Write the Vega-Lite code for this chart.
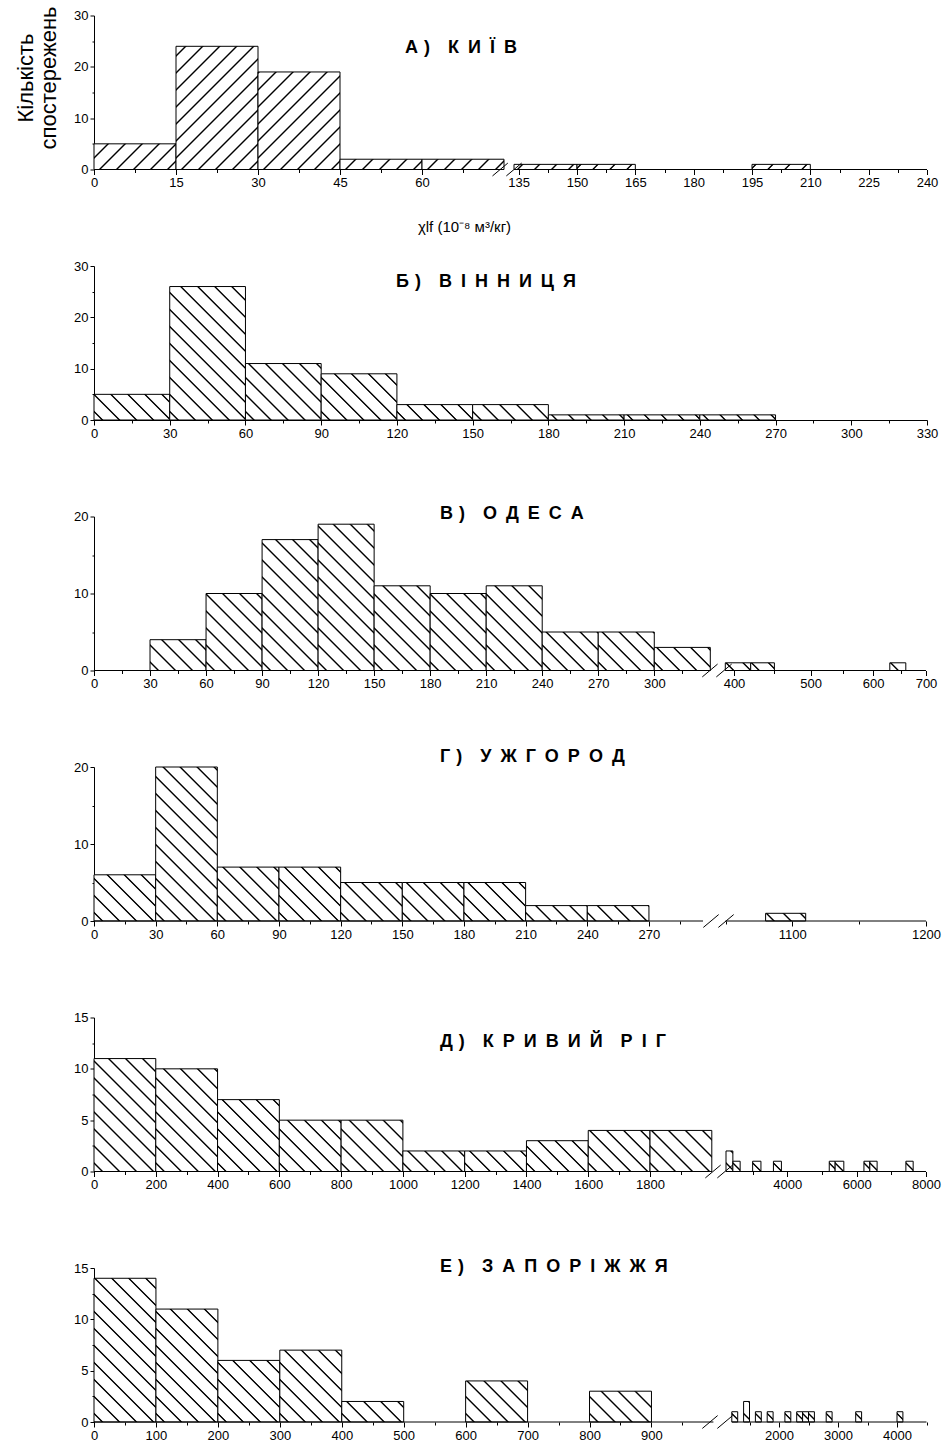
{
  "$schema": "https://vega.github.io/schema/vega-lite/v6.json",
  "background": "white",
  "autosize": {"type": "pad"},
  "padding": {"left": 14, "top": 5.5, "right": 5, "bottom": 2},
  "bounds": "flush",
  "spacing": 96.5,
  "params": [
    {"name": "hatch", "value": [
      {"offset": 0, "color": "#fff"},
      {"offset": 0.0290, "color": "#fff"}, {"offset": 0.0340, "color": "#000"}, {"offset": 0.0374, "color": "#000"}, {"offset": 0.0424, "color": "#fff"},
      {"offset": 0.1004, "color": "#fff"}, {"offset": 0.1055, "color": "#000"}, {"offset": 0.1088, "color": "#000"}, {"offset": 0.1139, "color": "#fff"},
      {"offset": 0.1718, "color": "#fff"}, {"offset": 0.1769, "color": "#000"}, {"offset": 0.1803, "color": "#000"}, {"offset": 0.1853, "color": "#fff"},
      {"offset": 0.2433, "color": "#fff"}, {"offset": 0.2483, "color": "#000"}, {"offset": 0.2517, "color": "#000"}, {"offset": 0.2567, "color": "#fff"},
      {"offset": 0.3147, "color": "#fff"}, {"offset": 0.3197, "color": "#000"}, {"offset": 0.3231, "color": "#000"}, {"offset": 0.3282, "color": "#fff"},
      {"offset": 0.3861, "color": "#fff"}, {"offset": 0.3912, "color": "#000"}, {"offset": 0.3945, "color": "#000"}, {"offset": 0.3996, "color": "#fff"},
      {"offset": 0.4576, "color": "#fff"}, {"offset": 0.4626, "color": "#000"}, {"offset": 0.4660, "color": "#000"}, {"offset": 0.4710, "color": "#fff"},
      {"offset": 0.5290, "color": "#fff"}, {"offset": 0.5340, "color": "#000"}, {"offset": 0.5374, "color": "#000"}, {"offset": 0.5424, "color": "#fff"},
      {"offset": 0.6004, "color": "#fff"}, {"offset": 0.6055, "color": "#000"}, {"offset": 0.6088, "color": "#000"}, {"offset": 0.6139, "color": "#fff"},
      {"offset": 0.6718, "color": "#fff"}, {"offset": 0.6769, "color": "#000"}, {"offset": 0.6803, "color": "#000"}, {"offset": 0.6853, "color": "#fff"},
      {"offset": 0.7433, "color": "#fff"}, {"offset": 0.7483, "color": "#000"}, {"offset": 0.7517, "color": "#000"}, {"offset": 0.7567, "color": "#fff"},
      {"offset": 0.8147, "color": "#fff"}, {"offset": 0.8197, "color": "#000"}, {"offset": 0.8231, "color": "#000"}, {"offset": 0.8282, "color": "#fff"},
      {"offset": 0.8861, "color": "#fff"}, {"offset": 0.8912, "color": "#000"}, {"offset": 0.8945, "color": "#000"}, {"offset": 0.8996, "color": "#fff"},
      {"offset": 0.9576, "color": "#fff"}, {"offset": 0.9626, "color": "#000"}, {"offset": 0.9660, "color": "#000"}, {"offset": 0.9710, "color": "#fff"},
      {"offset": 1, "color": "#fff"}
    ]}
  ],
  "datasets": {
    "kyiv": [
      {"lo": 0, "hi": 15, "n": 5}, {"lo": 15, "hi": 30, "n": 24}, {"lo": 30, "hi": 45, "n": 19},
      {"lo": 45, "hi": 60, "n": 2}, {"lo": 60, "hi": 75, "n": 2},
      {"lo": 133.8, "hi": 150, "n": 1}, {"lo": 150, "hi": 165, "n": 1}, {"lo": 195, "hi": 210, "n": 1}
    ],
    "vinnytsia": [
      {"lo": 0, "hi": 30, "n": 5}, {"lo": 30, "hi": 60, "n": 26}, {"lo": 60, "hi": 90, "n": 11},
      {"lo": 90, "hi": 120, "n": 9}, {"lo": 120, "hi": 150, "n": 3}, {"lo": 150, "hi": 180, "n": 3},
      {"lo": 180, "hi": 210, "n": 1}, {"lo": 210, "hi": 240, "n": 1}, {"lo": 240, "hi": 270, "n": 1}
    ],
    "odesa": [
      {"lo": 30, "hi": 60, "n": 4}, {"lo": 60, "hi": 90, "n": 10}, {"lo": 90, "hi": 120, "n": 17},
      {"lo": 120, "hi": 150, "n": 19}, {"lo": 150, "hi": 180, "n": 11}, {"lo": 180, "hi": 210, "n": 10},
      {"lo": 210, "hi": 240, "n": 11}, {"lo": 240, "hi": 270, "n": 5}, {"lo": 270, "hi": 300, "n": 5},
      {"lo": 300, "hi": 330, "n": 3}, {"lo": 390, "hi": 420, "n": 1}, {"lo": 420, "hi": 450, "n": 1},
      {"lo": 630, "hi": 660, "n": 1}
    ],
    "uzhhorod": [
      {"lo": 0, "hi": 30, "n": 6}, {"lo": 30, "hi": 60, "n": 20}, {"lo": 60, "hi": 90, "n": 7},
      {"lo": 90, "hi": 120, "n": 7}, {"lo": 120, "hi": 150, "n": 5}, {"lo": 150, "hi": 180, "n": 5},
      {"lo": 180, "hi": 210, "n": 5}, {"lo": 210, "hi": 240, "n": 2}, {"lo": 240, "hi": 270, "n": 2},
      {"lo": 1080, "hi": 1110, "n": 1}
    ],
    "kryvyirih": [
      {"lo": 0, "hi": 200, "n": 11}, {"lo": 200, "hi": 400, "n": 10}, {"lo": 400, "hi": 600, "n": 7},
      {"lo": 600, "hi": 800, "n": 5}, {"lo": 800, "hi": 1000, "n": 5}, {"lo": 1000, "hi": 1200, "n": 2},
      {"lo": 1200, "hi": 1400, "n": 2}, {"lo": 1400, "hi": 1600, "n": 3}, {"lo": 1600, "hi": 1800, "n": 4},
      {"lo": 1800, "hi": 2000, "n": 4},
      {"lo": 2232, "hi": 2430, "n": 2}, {"lo": 2430, "hi": 2640, "n": 1}, {"lo": 3000, "hi": 3240, "n": 1},
      {"lo": 3600, "hi": 3830, "n": 1}, {"lo": 5210, "hi": 5380, "n": 1}, {"lo": 5380, "hi": 5630, "n": 1},
      {"lo": 6210, "hi": 6380, "n": 1}, {"lo": 6380, "hi": 6590, "n": 1}, {"lo": 7420, "hi": 7630, "n": 1}
    ],
    "zaporizhzhia": [
      {"lo": 0, "hi": 100, "n": 14}, {"lo": 100, "hi": 200, "n": 11}, {"lo": 200, "hi": 300, "n": 6},
      {"lo": 300, "hi": 400, "n": 7}, {"lo": 400, "hi": 500, "n": 2}, {"lo": 600, "hi": 700, "n": 4},
      {"lo": 800, "hi": 900, "n": 3},
      {"lo": 1200, "hi": 1300, "n": 1}, {"lo": 1400, "hi": 1500, "n": 2}, {"lo": 1600, "hi": 1700, "n": 1},
      {"lo": 1800, "hi": 1900, "n": 1}, {"lo": 2100, "hi": 2200, "n": 1}, {"lo": 2300, "hi": 2400, "n": 1},
      {"lo": 2400, "hi": 2500, "n": 1}, {"lo": 2500, "hi": 2600, "n": 1}, {"lo": 2800, "hi": 2900, "n": 1},
      {"lo": 3300, "hi": 3400, "n": 1}, {"lo": 4000, "hi": 4100, "n": 1}
    ]
  },
  "vconcat": [
    {
      "width": 833, "height": 154,
      "title": {"text": "А\u2004)\u2002\u2002К\u2002И\u2002Ї\u2002В", "dx": 311, "dy": 55},
      "data": {"name": "kyiv"},
      "layer": [
        {
          "mark": {"type": "rect", "stroke": "#000", "strokeWidth": 1,
            "fill": {"expr": "{id:'hz0_'+round(datum.lo*10),gradient:'linear',x1:1,y1:1,x2:1-238*(scale('concat_0_x',datum.hi)-scale('concat_0_x',datum.lo))/(pow(scale('concat_0_x',datum.hi)-scale('concat_0_x',datum.lo),2)+pow(scale('concat_0_y',0)-scale('concat_0_y',datum.n),2)),y2:1-238*(scale('concat_0_y',0)-scale('concat_0_y',datum.n))/(pow(scale('concat_0_x',datum.hi)-scale('concat_0_x',datum.lo),2)+pow(scale('concat_0_y',0)-scale('concat_0_y',datum.n),2)),stops:hatch}"}},
          "encoding": {
            "x": {"field": "lo", "type": "quantitative", "title": "χlf (10⁻⁸ м³/кг)",
              "scale": {"domain": [0, 75, 133.8, 240], "range": [0, 410, 420, 833], "nice": false, "zero": false},
              "axis": {"domain": false, "format": "d",
                "values": [0, 7.5, 15, 22.5, 30, 37.5, 45, 52.5, 60, 67.5, 135, 142.5, 150, 157.5, 165, 172.5, 180, 187.5, 195, 202.5, 210, 217.5, 225, 232.5, 240],
                "labelExpr": "datum.value % 15 === 0 ? datum.label : ''",
                "tickSize": {"condition": {"test": "datum.value % 15 === 0", "value": 5}, "value": 3},
                "title": "χlf (10⁻⁸ м³/кг)", "titleX": 370, "titleY": 62, "titleBaseline": "alphabetic", "titleAlign": "center", "titleFontSize": 15}},
            "x2": {"field": "hi"},
            "y": {"field": "n", "type": "quantitative",
              "scale": {"domain": [0, 30], "nice": false},
              "axis": {"values": [0, 5, 10, 15, 20, 25, 30], "format": "d",
                "labelExpr": "datum.value % 10 === 0 ? datum.label : ''",
                "tickSize": {"condition": {"test": "datum.value % 10 === 0", "value": 4}, "value": 2},
                "title": ["Кількість", "спостережень"], "titleFontSize": 22, "titlePadding": 13, "titleY": 62, "titleLineHeight": 23}},
            "y2": {"datum": 0}
          }
        },
        {
          "data": {"values": [{"a": 0, "b": 75}, {"a": 133.8, "b": 240}]},
          "mark": {"type": "rule", "color": "#000", "strokeWidth": 1},
          "encoding": {"x": {"field": "a", "type": "quantitative", "title": "χlf (10⁻⁸ м³/кг)"}, "x2": {"field": "b"}, "y": {"datum": 0}}
        },
        {
          "data": {"values": [{"s": 74.3}, {"s": 133.8}]},
          "mark": {"type": "point", "shape": "M-0.766,0.643L0.766,-0.643", "size": 400, "filled": false, "color": "#000", "strokeWidth": 1, "opacity": 1},
          "encoding": {"x": {"field": "s", "type": "quantitative", "title": "χlf (10⁻⁸ м³/кг)"}, "y": {"datum": 0}}
        }
      ]
    },
    {
      "width": 833, "height": 154,
      "title": {"text": "Б\u2004)\u2002\u2002В\u2002І\u2002Н\u2002Н\u2002И\u2002Ц\u2002Я", "dx": 302, "dy": 35},
      "data": {"name": "vinnytsia"},
      "layer": [
        {
          "mark": {"type": "rect", "stroke": "#000", "strokeWidth": 1,
            "fill": {"expr": "{id:'hz1_'+round(datum.lo*10),gradient:'linear',x1:0,y1:1,x2:238*(scale('concat_1_x',datum.hi)-scale('concat_1_x',datum.lo))/(pow(scale('concat_1_x',datum.hi)-scale('concat_1_x',datum.lo),2)+pow(scale('concat_1_y',0)-scale('concat_1_y',datum.n),2)),y2:1-238*(scale('concat_1_y',0)-scale('concat_1_y',datum.n))/(pow(scale('concat_1_x',datum.hi)-scale('concat_1_x',datum.lo),2)+pow(scale('concat_1_y',0)-scale('concat_1_y',datum.n),2)),stops:hatch}"}},
          "encoding": {
            "x": {"field": "lo", "type": "quantitative", "title": null,
              "scale": {"domain": [0, 330], "nice": false, "zero": false},
              "axis": {"format": "d",
                "values": [0, 15, 30, 45, 60, 75, 90, 105, 120, 135, 150, 165, 180, 195, 210, 225, 240, 255, 270, 285, 300, 315, 330],
                "labelExpr": "datum.value % 30 === 0 ? datum.label : ''",
                "tickSize": {"condition": {"test": "datum.value % 30 === 0", "value": 5}, "value": 3}}},
            "x2": {"field": "hi"},
            "y": {"field": "n", "type": "quantitative", "title": null,
              "scale": {"domain": [0, 30], "nice": false},
              "axis": {"values": [0, 5, 10, 15, 20, 25, 30], "format": "d",
                "labelExpr": "datum.value % 10 === 0 ? datum.label : ''",
                "tickSize": {"condition": {"test": "datum.value % 10 === 0", "value": 4}, "value": 2}}},
            "y2": {"datum": 0}
          }
        }
      ]
    },
    {
      "width": 833, "height": 154,
      "title": {"text": "В\u2004)\u2002\u2002О\u2002Д\u2002Е\u2002С\u2002А", "dx": 346, "dy": 16.5},
      "data": {"name": "odesa"},
      "layer": [
        {
          "mark": {"type": "rect", "stroke": "#000", "strokeWidth": 1,
            "fill": {"expr": "{id:'hz2_'+round(datum.lo*10),gradient:'linear',x1:0,y1:1,x2:238*(scale('concat_2_x',datum.hi)-scale('concat_2_x',datum.lo))/(pow(scale('concat_2_x',datum.hi)-scale('concat_2_x',datum.lo),2)+pow(scale('concat_2_y',0)-scale('concat_2_y',datum.n),2)),y2:1-238*(scale('concat_2_y',0)-scale('concat_2_y',datum.n))/(pow(scale('concat_2_x',datum.hi)-scale('concat_2_x',datum.lo),2)+pow(scale('concat_2_y',0)-scale('concat_2_y',datum.n),2)),stops:hatch}"}},
          "encoding": {
            "x": {"field": "lo", "type": "quantitative", "title": null,
              "scale": {"domain": [0, 330, 390, 400, 420, 450, 500, 550, 600, 630, 650, 660, 700],
                        "range": [0, 616.3, 631.3, 640, 656.7, 680.4, 716.6, 749.3, 779.1, 795.8, 806.6, 811.8, 832],
                        "nice": false, "zero": false},
              "axis": {"domain": false, "format": "d",
                "values": [0, 15, 30, 45, 60, 75, 90, 105, 120, 135, 150, 165, 180, 195, 210, 225, 240, 255, 270, 285, 300, 315, 400, 450, 500, 550, 600, 650, 700],
                "labelExpr": "(datum.value <= 300 && datum.value % 30 === 0) || (datum.value >= 400 && datum.value % 100 === 0) ? datum.label : ''",
                "tickSize": {"condition": {"test": "(datum.value <= 300 && datum.value % 30 === 0) || (datum.value >= 400 && datum.value % 100 === 0)", "value": 5}, "value": 3}}},
            "x2": {"field": "hi"},
            "y": {"field": "n", "type": "quantitative", "title": null,
              "scale": {"domain": [0, 20], "nice": false},
              "axis": {"values": [0, 5, 10, 15, 20], "format": "d",
                "labelExpr": "datum.value % 10 === 0 ? datum.label : ''",
                "tickSize": {"condition": {"test": "datum.value % 10 === 0", "value": 4}, "value": 2}}},
            "y2": {"datum": 0}
          }
        },
        {
          "data": {"values": [{"a": 0, "b": 330}, {"a": 390, "b": 700}]},
          "mark": {"type": "rule", "color": "#000", "strokeWidth": 1},
          "encoding": {"x": {"field": "a", "type": "quantitative", "title": null}, "x2": {"field": "b"}, "y": {"datum": 0}}
        },
        {
          "data": {"values": [{"s": 329.8}, {"s": 384.8}]},
          "mark": {"type": "point", "shape": "M-0.766,0.643L0.766,-0.643", "size": 400, "filled": false, "color": "#000", "strokeWidth": 1, "opacity": 1},
          "encoding": {"x": {"field": "s", "type": "quantitative", "title": null}, "y": {"datum": 0}}
        }
      ]
    },
    {
      "width": 833, "height": 154,
      "title": {"text": "Г\u2004)\u2002\u2002У\u2002Ж\u2002Г\u2002О\u2002Р\u2002О\u2002Д", "dx": 346, "dy": 9.3},
      "data": {"name": "uzhhorod"},
      "layer": [
        {
          "mark": {"type": "rect", "stroke": "#000", "strokeWidth": 1,
            "fill": {"expr": "{id:'hz3_'+round(datum.lo*10),gradient:'linear',x1:0,y1:1,x2:238*(scale('concat_3_x',datum.hi)-scale('concat_3_x',datum.lo))/(pow(scale('concat_3_x',datum.hi)-scale('concat_3_x',datum.lo),2)+pow(scale('concat_3_y',0)-scale('concat_3_y',datum.n),2)),y2:1-238*(scale('concat_3_y',0)-scale('concat_3_y',datum.n))/(pow(scale('concat_3_x',datum.hi)-scale('concat_3_x',datum.lo),2)+pow(scale('concat_3_y',0)-scale('concat_3_y',datum.n),2)),stops:hatch}"}},
          "encoding": {
            "x": {"field": "lo", "type": "quantitative", "title": null,
              "scale": {"domain": [0, 296.3, 1050, 1200], "range": [0, 609, 631.5, 832], "nice": false, "zero": false},
              "axis": {"domain": false, "format": "d",
                "values": [0, 15, 30, 45, 60, 75, 90, 105, 120, 135, 150, 165, 180, 195, 210, 225, 240, 255, 270, 285, 1050, 1100, 1150, 1200],
                "labelExpr": "(datum.value <= 270 && datum.value % 30 === 0) || datum.value === 1100 || datum.value === 1200 ? datum.label : ''",
                "tickSize": {"condition": {"test": "(datum.value <= 270 && datum.value % 30 === 0) || datum.value === 1100 || datum.value === 1200", "value": 5}, "value": 3}}},
            "x2": {"field": "hi"},
            "y": {"field": "n", "type": "quantitative", "title": null,
              "scale": {"domain": [0, 20], "nice": false},
              "axis": {"values": [0, 5, 10, 15, 20], "format": "d",
                "labelExpr": "datum.value % 10 === 0 ? datum.label : ''",
                "tickSize": {"condition": {"test": "datum.value % 10 === 0", "value": 4}, "value": 2}}},
            "y2": {"datum": 0}
          }
        },
        {
          "data": {"values": [{"a": 0, "b": 296.3}, {"a": 1050, "b": 1200}]},
          "mark": {"type": "rule", "color": "#000", "strokeWidth": 1},
          "encoding": {"x": {"field": "a", "type": "quantitative", "title": null}, "x2": {"field": "b"}, "y": {"datum": 0}}
        },
        {
          "data": {"values": [{"s": 564.3}, {"s": 1050.4}]},
          "mark": {"type": "point", "shape": "M-0.766,0.643L0.766,-0.643", "size": 400, "filled": false, "color": "#000", "strokeWidth": 1, "opacity": 1},
          "encoding": {"x": {"field": "s", "type": "quantitative", "title": null}, "y": {"datum": 0}}
        }
      ]
    },
    {
      "width": 833, "height": 154,
      "title": {"text": "Д\u2004)\u2002\u2002К\u2002Р\u2002И\u2002В\u2002И\u2002Й\u2002\u2002Р\u2002І\u2002Г", "dx": 346, "dy": 43},
      "data": {"name": "kryvyirih"},
      "layer": [
        {
          "mark": {"type": "rect", "stroke": "#000", "strokeWidth": 1,
            "fill": {"expr": "{id:'hz4_'+round(datum.lo*10),gradient:'linear',x1:0,y1:1,x2:238*(scale('concat_4_x',datum.hi)-scale('concat_4_x',datum.lo))/(pow(scale('concat_4_x',datum.hi)-scale('concat_4_x',datum.lo),2)+pow(scale('concat_4_y',0)-scale('concat_4_y',datum.n),2)),y2:1-238*(scale('concat_4_y',0)-scale('concat_4_y',datum.n))/(pow(scale('concat_4_x',datum.hi)-scale('concat_4_x',datum.lo),2)+pow(scale('concat_4_y',0)-scale('concat_4_y',datum.n),2)),stops:hatch}"}},
          "encoding": {
            "x": {"field": "lo", "type": "quantitative", "title": null,
              "scale": {"domain": [0, 2000, 2232, 8000], "range": [0, 617.8, 632, 832], "nice": false, "zero": false},
              "axis": {"domain": false, "format": "d",
                "values": [0, 100, 200, 300, 400, 500, 600, 700, 800, 900, 1000, 1100, 1200, 1300, 1400, 1500, 1600, 1700, 1800, 1900, 3000, 4000, 5000, 6000, 7000, 8000],
                "labelExpr": "(datum.value <= 1800 && datum.value % 200 === 0) || (datum.value >= 4000 && datum.value % 2000 === 0) ? datum.label : ''",
                "tickSize": {"condition": {"test": "(datum.value <= 1800 && datum.value % 200 === 0) || (datum.value >= 4000 && datum.value % 2000 === 0)", "value": 5}, "value": 3}}},
            "x2": {"field": "hi"},
            "y": {"field": "n", "type": "quantitative", "title": null,
              "scale": {"domain": [0, 15], "nice": false},
              "axis": {"values": [0, 2.5, 5, 7.5, 10, 12.5, 15], "format": "d",
                "labelExpr": "datum.value % 5 === 0 ? datum.label : ''",
                "tickSize": {"condition": {"test": "datum.value % 5 === 0", "value": 4}, "value": 2}}},
            "y2": {"datum": 0}
          }
        },
        {
          "data": {"values": [{"a": 0, "b": 2000}, {"a": 2232, "b": 8000}]},
          "mark": {"type": "rule", "color": "#000", "strokeWidth": 1},
          "encoding": {"x": {"field": "a", "type": "quantitative", "title": null}, "x2": {"field": "b"}, "y": {"datum": 0}}
        },
        {
          "data": {"values": [{"s": 2019.6}, {"s": 2215.7}]},
          "mark": {"type": "point", "shape": "M-0.766,0.643L0.766,-0.643", "size": 400, "filled": false, "color": "#000", "strokeWidth": 1, "opacity": 1},
          "encoding": {"x": {"field": "s", "type": "quantitative", "title": null}, "y": {"datum": 0}}
        }
      ]
    },
    {
      "width": 833, "height": 154,
      "title": {"text": "Е\u2004)\u2002\u2002З\u2002А\u2002П\u2002О\u2002Р\u2002І\u2002Ж\u2002Ж\u2002Я", "dx": 346, "dy": 17.5},
      "data": {"name": "zaporizhzhia"},
      "layer": [
        {
          "mark": {"type": "rect", "stroke": "#000", "strokeWidth": 1,
            "fill": {"expr": "{id:'hz5_'+round(datum.lo*10),gradient:'linear',x1:0,y1:1,x2:238*(scale('concat_5_x',datum.hi)-scale('concat_5_x',datum.lo))/(pow(scale('concat_5_x',datum.hi)-scale('concat_5_x',datum.lo),2)+pow(scale('concat_5_y',0)-scale('concat_5_y',datum.n),2)),y2:1-238*(scale('concat_5_y',0)-scale('concat_5_y',datum.n))/(pow(scale('concat_5_x',datum.hi)-scale('concat_5_x',datum.lo),2)+pow(scale('concat_5_y',0)-scale('concat_5_y',datum.n),2)),stops:hatch}"}},
          "encoding": {
            "x": {"field": "lo", "type": "quantitative", "title": null,
              "scale": {"domain": [0, 1000, 1200, 4500], "range": [0, 619.4, 637.8, 832.5], "nice": false, "zero": false},
              "axis": {"domain": false, "format": "d",
                "values": [0, 50, 100, 150, 200, 250, 300, 350, 400, 450, 500, 550, 600, 650, 700, 750, 800, 850, 900, 950, 1500, 2000, 2500, 3000, 3500, 4000, 4500],
                "labelExpr": "(datum.value <= 900 && datum.value % 100 === 0) || (datum.value >= 2000 && datum.value % 1000 === 0) ? datum.label : ''",
                "tickSize": {"condition": {"test": "(datum.value <= 900 && datum.value % 100 === 0) || (datum.value >= 2000 && datum.value % 1000 === 0)", "value": 5}, "value": 3}}},
            "x2": {"field": "hi"},
            "y": {"field": "n", "type": "quantitative", "title": null,
              "scale": {"domain": [0, 15], "nice": false},
              "axis": {"values": [0, 2.5, 5, 7.5, 10, 12.5, 15], "format": "d",
                "labelExpr": "datum.value % 5 === 0 ? datum.label : ''",
                "tickSize": {"condition": {"test": "datum.value % 5 === 0", "value": 4}, "value": 2}}},
            "y2": {"datum": 0}
          }
        },
        {
          "data": {"values": [{"a": 0, "b": 1000}, {"a": 1200, "b": 4500}]},
          "mark": {"type": "rule", "color": "#000", "strokeWidth": 1},
          "encoding": {"x": {"field": "a", "type": "quantitative", "title": null}, "x2": {"field": "b"}, "y": {"datum": 0}}
        },
        {
          "data": {"values": [{"s": 994.5}, {"s": 1126}]},
          "mark": {"type": "point", "shape": "M-0.766,0.643L0.766,-0.643", "size": 400, "filled": false, "color": "#000", "strokeWidth": 1, "opacity": 1},
          "encoding": {"x": {"field": "s", "type": "quantitative", "title": null}, "y": {"datum": 0}}
        }
      ]
    }
  ],
  "config": {
    "view": {"stroke": null},
    "font": "Liberation Sans",
    "axis": {"grid": false, "domainColor": "#000", "tickColor": "#000", "labelColor": "#000",
      "labelFont": "Liberation Sans", "labelFontSize": 13, "labelPadding": 2, "tickCount": 200,
      "titleFont": "Liberation Sans", "titleColor": "#000", "titleFontWeight": "normal",
      "labelFlush": false, "labelOverlap": false, "labelBound": false, "domainWidth": 1, "tickWidth": 1},
    "title": {"font": "Liberation Sans", "fontSize": 18, "fontWeight": "bold", "color": "#000",
      "anchor": "start", "frame": "group", "offset": 0, "baseline": "alphabetic"}
  }
}
